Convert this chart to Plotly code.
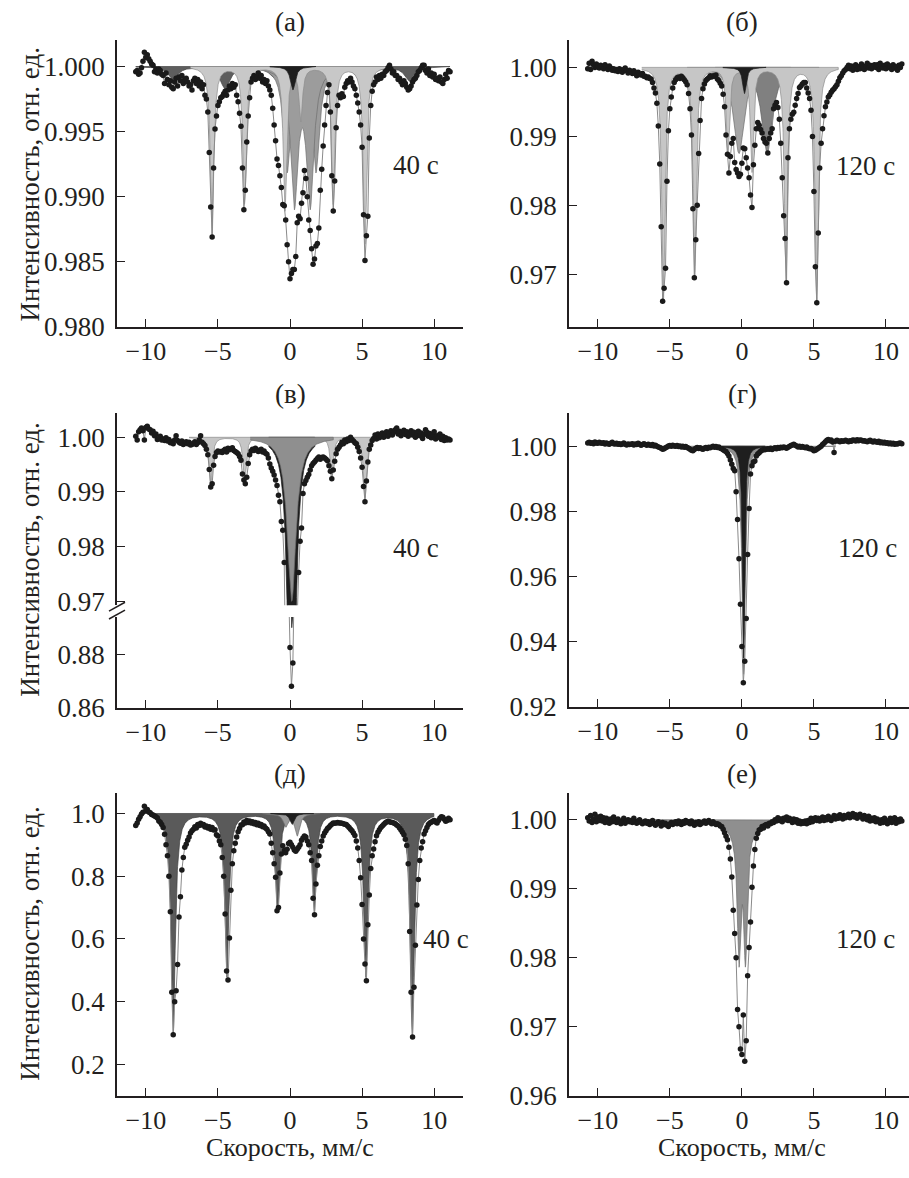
import numpy as np
import plotly.graph_objects as go

W, H = 909, 1178
FONT = "Liberation Serif, Times New Roman, serif"
INK = "#231f20"

# velocity channels (mm/s): start, step, count
VEL_START, VEL_STEP, N_CH = -10.7, 0.1, 219

# ---- measured points, deviation below 1 (row = 1 mm/s) ----
# (а) 40 c, units 1e-4
A_DOTS = [4, 3, 6, 5, 1, -4, -11, -7, -9, -6,
          -4, -2, -1, 4, 2, 5, 2, 3, 6, 7,
          13, 5, 10, 14, 11, 16, 17, 12, 9, 15,
          8, 11, 7, 13, 10, 9, 12, 15, 14, 18,
          11, 9, 13, 10, 15, 12, 17, 14, 22, 25,
          35, 66, 108, 131, 78, 48, 38, 30, 27, 24,
          23, 21, 19, 22, 18, 15, 17, 13, 16, 14,
          22, 27, 36, 46, 78, 110, 95, 58, 38, 24,
          12, 9, 7, 10, 8, 5, 9, 7, 12, 10,
          13, 11, 15, 18, 22, 32, 45, 57, 71, 76,
          84, 93, 106, 107, 118, 137, 150, 163, 159, 156,
          156, 146, 120, 115, 117, 105, 97, 80, 86, 100,
          118, 126, 140, 152, 148, 138, 136, 124, 95, 79,
          61, 45, 30, 20, 14, 35, 84, 111, 88, 47,
          30, 22, 24, 21, 23, 16, 13, 11, 12, 9,
          12, 15, 17, 22, 28, 35, 45, 62, 114, 149,
          130, 115, 55, 30, 19, 14, 12, 8, 10, 7,
          9, 6, 7, 4, 3, 1, -1, 2, 5, 4,
          7, 7, 10, 9, 12, 14, 11, 13, 16, 18,
          17, 15, 12, 10, 9, 7, 4, 3, 1, -1,
          -1, 3, 5, 2, 7, 5, 8, 6, 10, 9,
          11, 8, 12, 13, 10, 6, 9, 3, 4]
# (б) 120 c, units 1e-4
B_DOTS = [2, -6, 3, -9, -4, 0, -5, -2, 1, -3,
          -1, 2, -4, 0, 3, -2, 1, 4, 2, 5,
          3, 6, 2, 4, 7, 3, 1, 5, 8, 4,
          6, 9, 5, 8, 12, 7, 10, 11, 9, 13,
          13, 15, 14, 16, 17, 22, 30, 37, 52, 85,
          140, 231, 339, 320, 291, 165, 92, 60, 43, 30,
          22, 18, 15, 14, 16, 13, 15, 18, 21, 25,
          38, 60, 98, 205, 305, 250, 200, 125, 77, 45,
          31, 24, 19, 17, 15, 12, 14, 12, 13, 11,
          17, 19, 23, 27, 39, 57, 98, 126, 153, 129,
          110, 103, 138, 148, 153, 158, 155, 139, 117, 118,
          131, 146, 160, 185, 203, 141, 113, 89, 80, 84,
          90, 95, 103, 108, 110, 124, 103, 95, 89, 60,
          55, 51, 58, 75, 110, 160, 215, 248, 312, 131,
          89, 75, 68, 65, 55, 45, 38, 29, 27, 24,
          22, 22, 30, 37, 45, 62, 100, 180, 289, 341,
          240, 146, 110, 89, 70, 57, 50, 43, 40, 36,
          33, 31, 28, 25, 20, 15, 12, 8, 5, 3,
          0, -3, 2, -2, 4, 1, -4, 3, -1, 2,
          -5, 0, 3, -2, -6, 1, -3, 2, -1, -4,
          0, -4, 3, -6, -2, 1, -3, 2, -5, 0,
          -2, 3, -4, 1, -1, 4, -3, 0, -5]
# (в) 40 c, units 1e-4
C_DOTS = [-2, 5, -10, -14, -17, -12, 5, -18, -20, -15,
          -14, -8, -11, -3, -6, 4, 2, -2, 5, 3,
          6, 1, 7, 4, 10, 8, 12, 5, -3, 6,
          9, 11, 7, 13, 10, 8, 12, 9, 14, 13,
          11, 8, 13, 10, 5, -3, 9, 12, 15, 22,
          32, 59, 91, 85, 51, 35, 28, 25, 27, 26,
          28, 24, 22, 27, 20, 23, 21, 19, 24, 26,
          28, 30, 35, 42, 67, 78, 85, 73, 48, 32,
          25, 22, 24, 20, 23, 26, 24, 22, 27, 25,
          29, 31, 38, 49, 56, 62, 69, 78, 88, 106,
          118, 154, 170, 229, 420, 700, 990, 1174, 1319, 1232,
          900, 520, 330, 247, 190, 166, 103, 85, 79, 73,
          68, 60, 52, 48, 45, 42, 39, 36, 40, 37,
          36, 38, 40, 43, 52, 62, 76, 60, 44, 30,
          22, 18, 14, 9, 12, 5, 8, 3, 6, 0,
          4, 7, 10, 12, 18, 26, 38, 55, 90, 118,
          80, 45, 22, 14, 6, 2, -4, 3, -6, 1,
          -3, -8, 0, -5, -10, -2, -7, -12, -4, -9,
          -14, -17, -6, -11, -3, -9, -13, -5, -10, -2,
          -7, -12, -4, -9, 0, -6, -11, -3, -8, 2,
          -5, -14, -9, -2, -7, 1, -4, -10, 3, -3,
          0, -6, 4, -2, 6, 1, 5, 3, 5]
# (г) 120 c, units 1e-4
D_DOTS = [-10, -12, -9, -11, -8, -13, -10, -9, -12, -10,
          -9, -11, -7, -10, -8, -6, -9, -12, -8, -7,
          -9, -6, -8, -5, -7, -10, -6, -4, -7, -5,
          -6, -8, -4, -7, -5, -9, -6, -3, -5, -8,
          -5, -3, -6, -4, -2, -5, -1, -3, 0, 2,
          4, 6, 9, 8, 5, 2, -1, -2, 0, -3,
          -1, 0, -2, 1, -1, 2, 0, 3, 1, 4,
          6, 9, 12, 14, 10, 6, 4, 7, 5, 8,
          9, 6, 4, 7, 3, 5, 2, 0, 3, 1,
          4, 2, 6, 8, 11, 14, 16, 22, 30, 42,
          55, 68, 75, 140, 225, 345, 485, 615, 726, 660,
          529, 332, 191, 85, 60, 48, 45, 30, 24, 20,
          15, 12, 10, 11, 9, 8, 9, 6, 10, 7,
          5, 8, 4, 6, 3, 5, 2, 4, 6, 3,
          1, -2, -4, -6, -3, -1, 2, 0, 3, 1,
          3, 5, 2, 6, 8, 7, 10, 14, 12, 9,
          6, 3, 0, -5, -9, -14, -18, -21, -17, -19,
          -13, 19, -15, -18, -16, -14, -17, -15, -16, -18,
          -16, -14, -17, -15, -19, -18, -16, -20, -17, -19,
          -18, -16, -17, -15, -14, -16, -18, -15, -13, -16,
          -14, -12, -15, -11, -13, -10, -12, -9, -11, -8,
          -10, -7, -9, -6, -8, -7, -9, -10, -8]
# (д) 40 c, units 1e-3
E_DOTS = [38, 30, 18, 10, 2, -4, -23, -8, -13, -5,
          -2, 3, 5, 8, 10, 14, 24, 28, 35, 45,
          66, 100, 135, 200, 313, 570, 705, 600, 565, 481,
          330, 265, 180, 140, 108, 98, 85, 75, 62, 55,
          50, 42, 46, 35, 38, 31, 37, 35, 43, 40,
          46, 42, 50, 45, 53, 52, 68, 72, 88, 100,
          140, 200, 320, 502, 531, 397, 245, 160, 119, 95,
          75, 58, 48, 37, 36, 27, 30, 22, 29, 24,
          30, 26, 33, 29, 36, 31, 38, 35, 42, 40,
          46, 50, 58, 65, 95, 125, 160, 203, 310, 300,
          190, 129, 103, 118, 125, 114, 96, 92, 100, 108,
          116, 120, 114, 108, 100, 85, 78, 72, 75, 88,
          100, 125, 150, 270, 323, 225, 165, 135, 105, 88,
          72, 62, 55, 48, 44, 38, 34, 30, 31, 30,
          29, 30, 30, 31, 33, 34, 35, 40, 45, 50,
          55, 62, 70, 88, 110, 150, 205, 290, 400, 480,
          533, 355, 260, 175, 135, 113, 90, 71, 60, 52,
          45, 40, 35, 30, 27, 25, 26, 28, 29, 30,
          33, 37, 40, 46, 53, 60, 68, 82, 102, 160,
          376, 570, 712, 554, 420, 292, 210, 150, 110, 90,
          65, 55, 45, 35, 30, 28, 25, 22, 27, 30,
          22, 15, 10, 12, 18, 25, 22, 15, 20]
# (е) 120 c, units 1e-4
F_DOTS = [-3, 2, -6, 4, -1, -8, 3, -4, 1, -5,
          2, -3, 4, -2, 0, 5, -1, 3, -4, 2,
          4, -1, 3, 6, 1, -2, 5, 2, 0, 3,
          1, 4, -2, 3, 5, 2, 0, 4, 6, 3,
          2, 5, 3, 7, 4, 1, 6, 8, 5, 3,
          6, 9, 4, 7, 5, 8, 10, 6, 4, 7,
          5, 3, 6, 2, 4, 7, 3, 5, 1, 4,
          3, 6, 2, 5, 8, 4, 6, 3, 7, 5,
          4, 2, 5, 3, 1, 4, 6, 3, 5, 7,
          6, 7, 9, 10, 14, 19, 24, 29, 40, 57,
          83, 131, 165, 200, 275, 300, 332, 340, 283, 350,
          320, 226, 185, 148, 98, 67, 43, 27, 20, 15,
          14, 10, 12, 8, 7, 9, 5, 6, 3, 4,
          0, 2, -3, 1, -1, 3, -2, 0, -4, 1,
          -2, 1, 4, -1, 3, 0, 5, 2, 6, 3,
          5, 2, 6, 1, 4, -2, 3, 0, -3, 1,
          -2, 2, -1, -4, 1, -3, 0, -5, -2, 1,
          -3, -6, -1, -5, -2, -7, -4, -1, -6, -3,
          -5, -8, -3, -6, -9, -4, -7, -2, -5, -8,
          -4, -1, -6, -3, 0, -5, 2, -2, 1, -3,
          3, -1, 2, 5, 0, 4, -2, 3, 6, 1,
          -2, 4, 1, -3, 5, 0, 3, -1, 2]

# ---- fitted subspectra: fill, edge, line centres (mm/s), depths, HWHM ----
A_FILL = ["#5e5e5e", "#9c9c9c", "#9c9c9c", "#c8c8c8", "#1e1e1e"]
A_EDGE = ["#444444", "#6e6e6e", "#6e6e6e", "#8c8c8c", "#1e1e1e"]
A_CENTER = [[-8.1, -4.5, -1.1, 1.5, 5.1, 8.3], [-0.2, 1.8], [0.3, 1.4],
            [-5.4, -3.15, -0.35, 0.75, 3.0, 5.2], [0.2]]
A_DEPTH = [[0.0010, 0.0017, 0.0008, 0.0008, 0.0018, 0.0011], [0.0080, 0.0080], [0.0103, 0.0103],
           [0.0128, 0.0105, 0.0110, 0.0040, 0.0105, 0.0136], [0.0018]]
A_HWHM = [0.4, 0.3, 0.3, 0.14, 0.2]

B_FILL = ["#a6a6a6", "#808080", "#c6c6c6", "#1e1e1e"]
B_EDGE = ["#6e6e6e", "#5e5e5e", "#8c8c8c", "#1e1e1e"]
B_CENTER = [[-0.2], [1.75], [-5.45, -3.27, -0.97, 0.7, 3.06, 5.19], [0.18]]
B_DEPTH = [[0.0125], [0.0125], [0.0340, 0.0305, 0.0125, 0.0150, 0.0312, 0.0343], [0.0038]]
B_HWHM = [0.45, 0.45, 0.13, 0.15]

C_FILL = ["#c6c6c6", "#1e1e1e", "#8f8f8f"]
C_EDGE = ["#8c8c8c", "#1e1e1e", "#6e6e6e"]
C_CENTER = [[-5.5, -3.15, -0.95, 0.75, 2.9, 5.2], [0.12], [0.12]]
C_DEPTH = [[0.0088, 0.0080, 0.0025, 0.0025, 0.0072, 0.0112], [0.110], [0.030]]
C_HWHM = [0.13, 0.2, 0.36]

D_FILL = ["#8f8f8f", "#8f8f8f", "#1e1e1e"]
D_EDGE = ["#6e6e6e", "#6e6e6e", "#1e1e1e"]
D_CENTER = [[-5.3, -3.3, -1.0, 0.9, 3.0, 5.0], [0.12], [0.12]]
D_DEPTH = [[0.0009, 0.0008, 0.0003, 0.0003, 0.0007, 0.0011], [0.070], [0.065]]
D_HWHM = [0.18, 0.14, 0.09]

E_FILL = ["#5a5a5a", "#9a9a9a", "#1e1e1e"]
E_EDGE = ["#404040", "#6e6e6e", "#1e1e1e"]
E_CENTER = [[-8.1, -4.38, -0.87, 1.69, 5.26, 8.48], [-0.3, 0.5], [0.15]]
E_DEPTH = [[0.70, 0.52, 0.31, 0.31, 0.52, 0.71], [0.04, 0.07], [0.035]]
E_HWHM = [0.17, 0.2, 0.18]

F_FILL = ["#8f8f8f"]
F_EDGE = ["#6e6e6e"]
F_CENTER = [[-0.2, 0.25, 0.02]]
F_DEPTH = [[0.0175, 0.0175, 0.0025]]
F_HWHM = [[0.14, 0.14, 0.8]]

# ---- axes ticks ----
X_TICKS = [-10, -5, 0, 5, 10]
A_YTICKS = [0.980, 0.985, 0.990, 0.995, 1.000]
B_YTICKS = [0.97, 0.98, 0.99, 1.00]
C_YTICKS_UP = [0.97, 0.98, 0.99, 1.00]
C_YTICKS_LO = [0.86, 0.88]
D_YTICKS = [0.92, 0.94, 0.96, 0.98, 1.00]
E_YTICKS = [0.2, 0.4, 0.6, 0.8, 1.0]
F_YTICKS = [0.96, 0.97, 0.98, 0.99, 1.00]

vel = np.round(VEL_START + VEL_STEP * np.arange(N_CH), 2)
VEL_END = vel[-1]


def px_x(p):
    return p / W


def px_y(p):
    return 1 - p / H


def lorentz(v, centers, depths, hwhm):
    g = np.broadcast_to(np.asarray(hwhm, dtype=float), (len(centers),))
    out = np.zeros_like(v)
    for c, d, w in zip(centers, depths, g):
        out += d / (1 + ((v - c) / w) ** 2)
    return out


def add_components(fig, fills, edges, centers, depths, hwhms, xa, ya):
    for fc, ec, c, d, g in zip(fills, edges, centers, depths, hwhms):
        reach = max(1.5, 8 * float(np.max(g)))
        lo = max(min(c) - reach, VEL_START)
        hi = min(max(c) + reach, VEL_END)
        vv = np.linspace(lo, hi, 1500)
        yy = 1 - lorentz(vv, c, d, g)
        fig.add_trace(go.Scatter(
            x=np.concatenate([vv, [hi, lo]]), y=np.concatenate([yy, [1, 1]]),
            mode="lines", fill="toself", fillcolor=fc,
            line=dict(color=ec, width=0.7), xaxis=xa, yaxis=ya,
            hoverinfo="skip", showlegend=False))


def add_spectrum(fig, dots, unit, xa, ya):
    y = 1 - np.asarray(dots, dtype=float) * unit
    fig.add_trace(go.Scatter(x=vel, y=y, mode="lines",
                             line=dict(color="#8a8a8a", width=1),
                             xaxis=xa, yaxis=ya, hoverinfo="skip", showlegend=False))
    fig.add_trace(go.Scatter(x=vel, y=y, mode="markers",
                             marker=dict(color="#1a1a1a", size=5.5),
                             xaxis=xa, yaxis=ya, hoverinfo="skip", showlegend=False))


def x_axis(domain, anchor, rng):
    return dict(domain=domain, anchor=anchor, range=rng, tickvals=X_TICKS,
                ticks="inside", ticklen=8, tickwidth=1.3, tickcolor=INK,
                showline=True, linecolor=INK, linewidth=1.5,
                showgrid=False, zeroline=False,
                tickfont=dict(family=FONT, size=26, color=INK))


def y_axis(domain, anchor, rng, ticks, fmt):
    return dict(domain=domain, anchor=anchor, range=rng, tickvals=ticks, tickformat=fmt,
                ticks="inside", ticklen=8, tickwidth=1.3, tickcolor=INK,
                showline=True, linecolor=INK, linewidth=1.5,
                showgrid=False, zeroline=False, ticklabelstandoff=5,
                tickfont=dict(family=FONT, size=27, color=INK))


for name, lst in [("A", A_DOTS), ("B", B_DOTS), ("C", C_DOTS),
                  ("D", D_DOTS), ("E", E_DOTS), ("F", F_DOTS)]:
    if len(lst) != N_CH:
        raise ValueError(f"{name}_DOTS has {len(lst)} values, expected {N_CH}")

fig = go.Figure()

# (а)
add_components(fig, A_FILL, A_EDGE, A_CENTER, A_DEPTH, A_HWHM, "x", "y")
add_spectrum(fig, A_DOTS, 1e-4, "x", "y")
# (б)
add_components(fig, B_FILL, B_EDGE, B_CENTER, B_DEPTH, B_HWHM, "x2", "y2")
add_spectrum(fig, B_DOTS, 1e-4, "x2", "y2")
# (в) broken axis: upper y7, lower y3
for ya in ("y7", "y3"):
    add_components(fig, C_FILL, C_EDGE, C_CENTER, C_DEPTH, C_HWHM, "x3", ya)
    add_spectrum(fig, C_DOTS, 1e-4, "x3", ya)
# (г)
add_components(fig, D_FILL, D_EDGE, D_CENTER, D_DEPTH, D_HWHM, "x4", "y4")
add_spectrum(fig, D_DOTS, 1e-4, "x4", "y4")
# (д)
add_components(fig, E_FILL, E_EDGE, E_CENTER, E_DEPTH, E_HWHM, "x5", "y5")
add_spectrum(fig, E_DOTS, 1e-3, "x5", "y5")
# (е)
add_components(fig, F_FILL, F_EDGE, F_CENTER, F_DEPTH, F_HWHM, "x6", "y6")
add_spectrum(fig, F_DOTS, 1e-4, "x6", "y6")

XL = [px_x(117), px_x(463)]
XR = [px_x(569), 1.0]
ROW1 = [px_y(331), px_y(41)]
ROW3 = [px_y(1110), px_y(803)]

fig.update_layout(
    width=W, height=H, margin=dict(l=0, r=0, t=0, b=0),
    paper_bgcolor="white", plot_bgcolor="white", showlegend=False,
    font=dict(family=FONT, color=INK),
    xaxis=x_axis(XL, "y", [-12, 12]),
    yaxis=y_axis(ROW1, "x", [0.980, 1.002], A_YTICKS, ".3f"),
    xaxis2=x_axis(XR, "y2", [-12, 11.6]),
    yaxis2=y_axis(ROW1, "x2", [0.9624, 1.0039], B_YTICKS, ".2f"),
    xaxis3=x_axis(XL, "y3", [-12, 12]),
    yaxis3=y_axis([px_y(717), px_y(625)], "x3", [0.86, 0.894], C_YTICKS_LO, ".2f"),
    yaxis7=y_axis([px_y(613), px_y(418)], "x3", [0.9693, 1.0045], C_YTICKS_UP, ".2f"),
    xaxis4=x_axis(XR, "y4", [-12, 11.6]),
    yaxis4=y_axis([px_y(716), px_y(418)], "x4", [0.92, 1.0103], D_YTICKS, ".2f"),
    xaxis5=x_axis(XL, "y5", [-12, 12]),
    yaxis5=y_axis(ROW3, "x5", [0.1, 1.066], E_YTICKS, ".1f"),
    xaxis6=x_axis(XR, "y6", [-12, 11.6]),
    yaxis6=y_axis(ROW3, "x6", [0.96, 1.0039], F_YTICKS, ".2f"),
)

# axis-break marks on (в)
for y0 in (619, 627):
    fig.add_shape(type="line", xref="paper", yref="paper",
                  x0=px_x(109), y0=px_y(y0), x1=px_x(125), y1=px_y(y0 - 9),
                  line=dict(color=INK, width=1.5))

txt = dict(family=FONT, size=27, color=INK)
# panel letters
for label, x, y in [("(а)", 290, 22), ("(б)", 742, 22), ("(в)", 290, 399),
                    ("(г)", 742, 399), ("(д)", 290, 784), ("(е)", 742, 784)]:
    fig.add_annotation(text=label, x=px_x(x), y=px_y(y), xref="paper", yref="paper",
                       showarrow=False, font=txt, xanchor="center", yanchor="middle")
# exposure times
for label, x, y, xa, ya in [("40 с", 8.75, 0.9924, "x", "y"),
                            ("120 с", 8.6, 0.9857, "x2", "y2"),
                            ("40 с", 8.75, 0.9798, "x3", "y7"),
                            ("120 с", 8.7, 0.9688, "x4", "y4"),
                            ("40 с", 10.8, 0.60, "x5", "y5"),
                            ("120 с", 8.6, 0.9827, "x6", "y6")]:
    fig.add_annotation(text=label, x=x, y=y, xref=xa, yref=ya, showarrow=False,
                       font=txt, xanchor="center", yanchor="middle")
# axis titles
for yc in (187, 567, 956):
    fig.add_annotation(text="Интенсивность, отн. ед.", x=px_x(30), y=px_y(yc),
                       xref="paper", yref="paper", showarrow=False, textangle=-90,
                       font=txt, xanchor="center", yanchor="middle")
for xc in (290, 742):
    fig.add_annotation(text="Скорость, мм/с", x=px_x(xc), y=px_y(1178), borderpad=0,
                       xref="paper", yref="paper", showarrow=False,
                       font=dict(family=FONT, size=26, color=INK),
                       xanchor="center", yanchor="bottom")

fig.write_html("out.html", config={"displayModeBar": False},
               post_script="document.body.style.margin='0px';")
